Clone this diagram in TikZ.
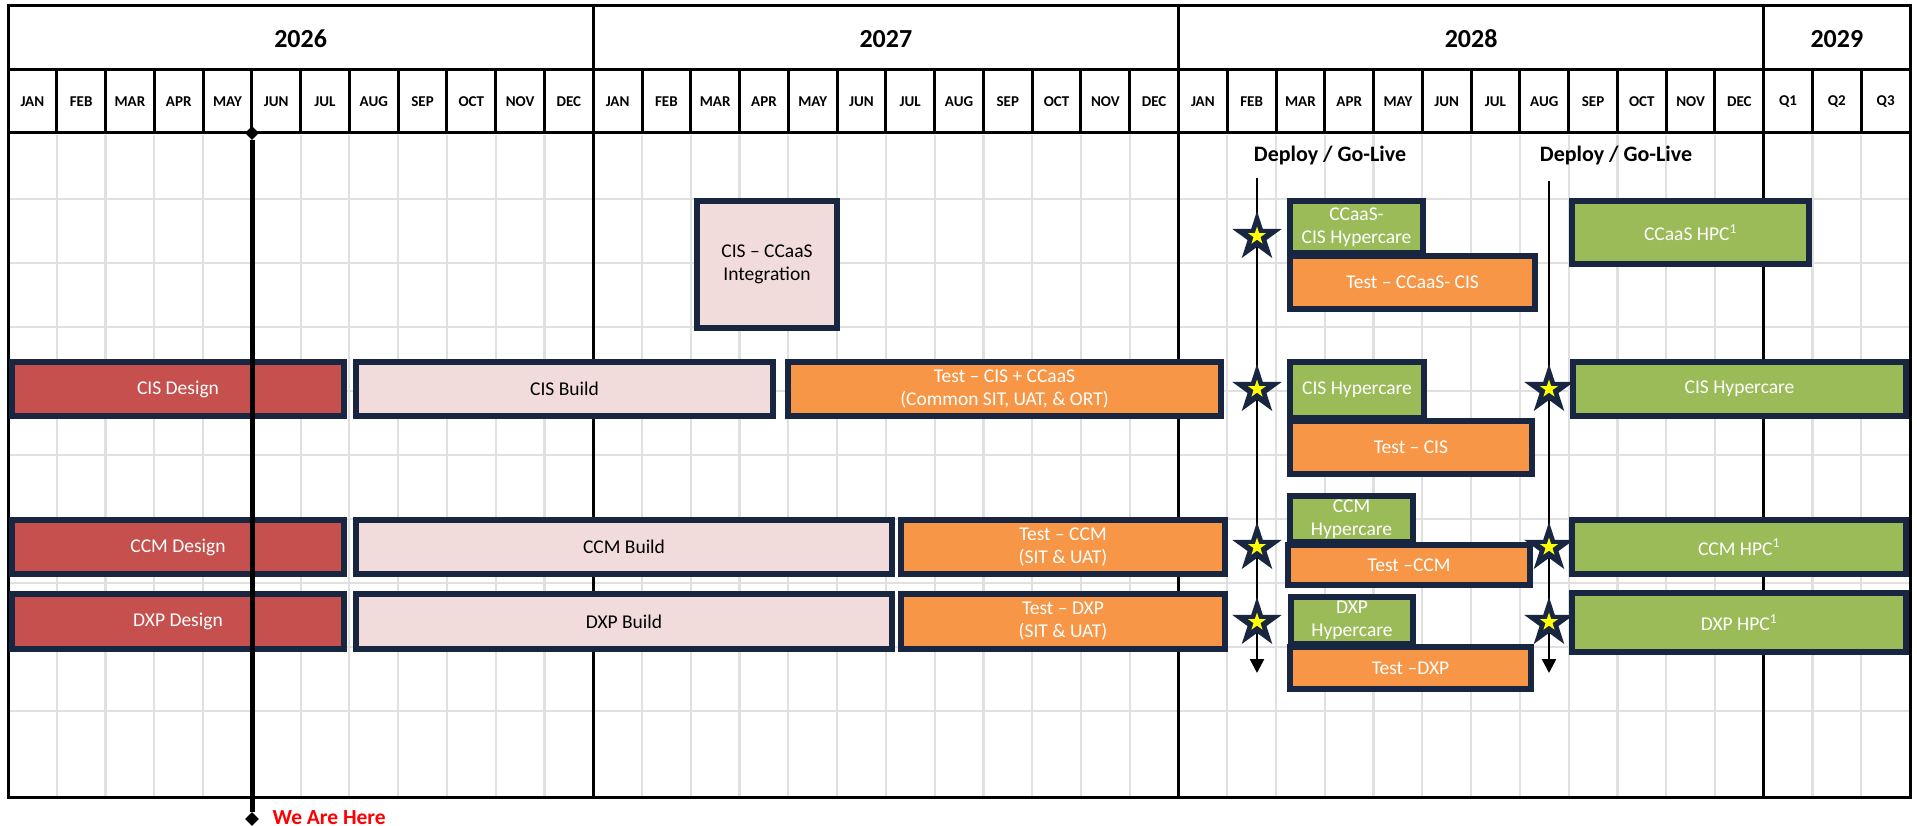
\documentclass[tikz,border=0pt]{standalone}
\usepackage{fontspec}
\setmainfont{Carlito}
\usetikzlibrary{shapes.geometric,arrows.meta}
\definecolor{navy}{RGB}{24,38,66}
\definecolor{barred}{RGB}{197,80,78}
\definecolor{barpink}{RGB}{242,220,219}
\definecolor{barorange}{RGB}{247,150,70}
\definecolor{bargreen}{RGB}{155,187,89}
\definecolor{gridgrey}{RGB}{224,224,224}
\definecolor{herered}{RGB}{255,0,0}
\definecolor{staryellow}{RGB}{255,255,0}
\tikzset{
 gbox/.style={draw=navy, line width=6pt, inner sep=0pt, align=center, font=\fontsize{19.5}{23}\selectfont},
 monthlabel/.style={font=\bfseries\fontsize{15}{18}\selectfont},
 yearlabel/.style={font=\bfseries\fontsize{26}{30}\selectfont},
 frameline/.style={black, line width=3pt},
 gridline/.style={gridgrey, line width=2.2pt},
 yearline/.style={black, line width=2.6pt},
 deployline/.style={black, line width=2.5pt, -{Triangle[length=14pt,width=14pt]}},
 bigstar/.style={star, star points=5, star point ratio=2.618, fill=navy, minimum size=52pt, inner sep=0pt},
 smallstar/.style={star, star points=5, star point ratio=2.618, fill=staryellow, minimum size=19pt, inner sep=0pt},
 pinmark/.style={diamond, fill=black, minimum size=14pt, inner sep=0pt},
 nowline/.style={black, line width=5pt},
 deploytext/.style={font=\bfseries\fontsize{22}{26}\selectfont, anchor=base},
 heretext/.style={text=herered, font=\bfseries\fontsize{21.5}{25}\selectfont, anchor=base west},
}
% name, x1, y1, x2, y2, fill, text colour, text
\newcommand{\gbar}[8]{%
 \node[gbox, fill=#6, text=#7, minimum width={#4-(#2)-6}, minimum height={#5-(#3)-6}] (#1) at ({(#2+#4)/2},{(#3+#5)/2}) {#8};}
\begin{document}
\begin{tikzpicture}[x=1pt,y=-1pt]
\fill[white] (0,0) rectangle (1917,826);
\useasboundingbox (0,0) rectangle (1917,826);
% grid
\foreach \i in {1,...,38} \draw[gridline] ({8+48.77*\i},135) -- ({8+48.77*\i},797);
\foreach \y in {199,263,327,391,455,519,583,647,711} \draw[gridline] (8,\y) -- (1910,\y);
% year separators
\foreach \i in {12,24,36} \draw[yearline] ({8+48.77*\i},6) -- ({8+48.77*\i},797);
% header lines
\draw[frameline] (8,70) -- (1910,70);
\draw[frameline] (8,133) -- (1910,133);
\foreach \i in {1,...,38} \draw[frameline] ({8+48.77*\i},70) -- ({8+48.77*\i},133);
\draw[frameline] (8,6) rectangle (1910,797);
% years
\node[yearlabel] (y2026) at ({8+48.77*6},39) {2026};
\node[yearlabel] (y2027) at ({8+48.77*18},39) {2027};
\node[yearlabel] (y2028) at ({8+48.77*30},39) {2028};
\node[yearlabel] (y2029) at ({8+48.77*37.5},39) {2029};
% months
\foreach \m [count=\i from 0] in {JAN,FEB,MAR,APR,MAY,JUN,JUL,AUG,SEP,OCT,NOV,DEC,JAN,FEB,MAR,APR,MAY,JUN,JUL,AUG,SEP,OCT,NOV,DEC,JAN,FEB,MAR,APR,MAY,JUN,JUL,AUG,SEP,OCT,NOV,DEC,Q1,Q2,Q3}
 \node[monthlabel] (mon\i) at ({8+48.77*(\i+0.5)},102) {\m};
% bars
\gbar{integ}{694}{198}{840}{331}{barpink}{black}{CIS – CCaaS\\Integration}
\gbar{cisdes}{9}{359}{347}{419}{barred}{white}{CIS Design}
\gbar{cisbld}{353}{359}{776}{419}{barpink}{black}{CIS Build}
\gbar{cistest}{785}{359}{1224}{419}{barorange}{white}{Test – CIS + CCaaS\\(Common SIT, UAT, \& ORT)}
\gbar{ccmdes}{9}{517}{347}{577}{barred}{white}{CCM Design}
\gbar{ccmbld}{353}{517}{895}{577}{barpink}{black}{CCM Build}
\gbar{ccmtest}{898}{517}{1228}{577}{barorange}{white}{Test – CCM\\(SIT \& UAT)}
\gbar{dxpdes}{9}{591}{347}{652}{barred}{white}{DXP Design}
\gbar{dxpbld}{353}{591}{895}{652}{barpink}{black}{DXP Build}
\gbar{dxptest}{898}{591}{1228}{652}{barorange}{white}{Test – DXP\\(SIT \& UAT)}
\gbar{ccaashc}{1287}{198}{1426}{256}{bargreen}{white}{CCaaS-\\CIS Hypercare}
\gbar{ccaastest}{1287}{253}{1538}{312}{barorange}{white}{Test – CCaaS- CIS}
\gbar{ccaashpc}{1569}{198}{1812}{267}{bargreen}{white}{CCaaS HPC\textsuperscript{1}}
\gbar{cishcA}{1287}{359}{1427}{421}{bargreen}{white}{CIS Hypercare}
\gbar{cistestB}{1287}{418}{1535}{477}{barorange}{white}{Test – CIS}
\gbar{cishcB}{1570}{359}{1909}{419}{bargreen}{white}{CIS Hypercare}
\gbar{ccmhc}{1287}{493}{1416}{545}{bargreen}{white}{CCM\\Hypercare}
\gbar{ccmtestB}{1285}{542}{1533}{588}{barorange}{white}{Test –CCM}
\gbar{ccmhpc}{1569}{517}{1909}{577}{bargreen}{white}{CCM HPC\textsuperscript{1}}
\gbar{dxphc}{1288}{594}{1416}{647}{bargreen}{white}{DXP\\Hypercare}
\gbar{dxptestB}{1287}{644}{1534}{692}{barorange}{white}{Test –DXP}
\gbar{dxphpc}{1569}{590}{1909}{655}{bargreen}{white}{DXP HPC\textsuperscript{1}}
% deploy lines
\node[deploytext] (depA) at (1330,162) {Deploy / Go-Live};
\node[deploytext] (depB) at (1616,162) {Deploy / Go-Live};
\coordinate (dAtop) at (1257,178);
\coordinate (dAbot) at (1257,673);
\coordinate (dBtop) at (1549,181);
\coordinate (dBbot) at (1549,673);
\draw[deployline] (dAtop) -- (dAbot);
\draw[deployline] (dBtop) -- (dBbot);
\foreach \n/\x/\y in {sA/1257/237, sB/1257/390, sC/1257/548, sD/1257/623, sE/1549/390, sF/1549/548, sG/1549/623}{
 \node[bigstar] (\n) at (\x,\y) {};
 \node[smallstar] (\n y) at (\x,\y-1) {};
}
% we are here
\node[pinmark] (nowtop) at (252,133) {};
\node[pinmark] (nowbot) at (252,819) {};
\draw[nowline] (nowtop) -- (nowbot);
\node[heretext] (here) at (269,824) {We Are Here};
\end{tikzpicture}
\end{document}
